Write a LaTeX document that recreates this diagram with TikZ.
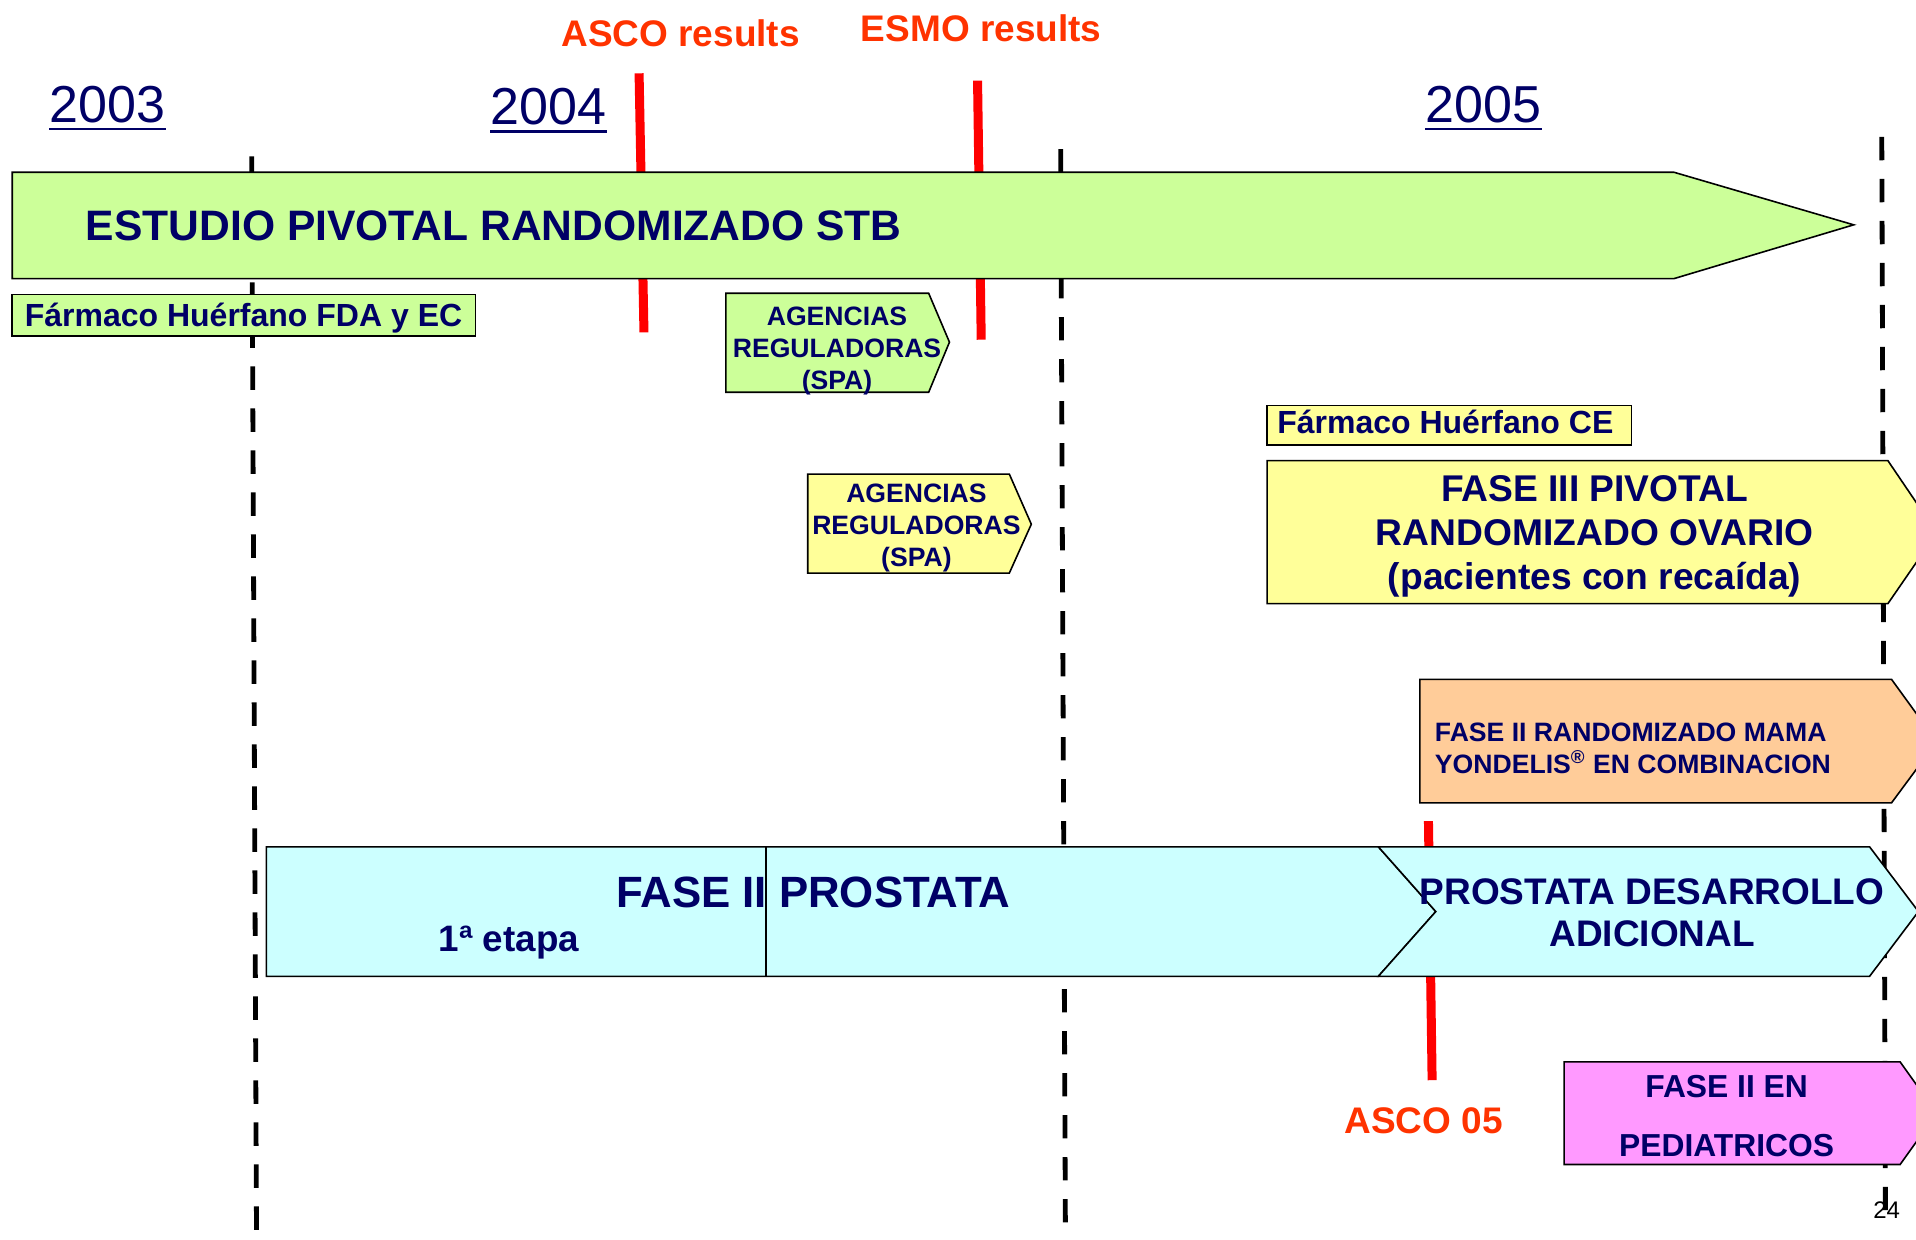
\documentclass[tikz,border=0pt]{standalone}
\usepackage{fontspec}
\setmainfont{Liberation Sans}
\definecolor{navy}{HTML}{000066}
\definecolor{redl}{HTML}{FF0000}
\definecolor{redt}{HTML}{FF3300}
\definecolor{greenf}{HTML}{CCFF99}
\definecolor{yellowf}{HTML}{FFFF99}
\definecolor{orangef}{HTML}{FFCC99}
\definecolor{cyanf}{HTML}{CCFFFF}
\definecolor{pinkf}{HTML}{FF99FF}
\newcommand\myfs[2]{\fontsize{#1}{#2}\selectfont}
\tikzset{
  shp/.style={draw=black, line width=0.8pt, line join=miter},
  txt/.style={inner sep=0pt, text=navy},
  redtxt/.style={inner sep=0pt, text=redt},
  redline/.style={draw=redl, line width=4.5pt},
  dashline/.style={draw=black, line width=2.4pt, dash pattern=on 11.7pt off 9.3pt},
  yearline/.style={draw=navy, line width=1.4pt},
}
\begin{document}
\begin{tikzpicture}[x=0.611pt,y=-0.611pt]
\useasboundingbox (0,0) rectangle (1568,1014);
\clip (0,0) rectangle (1568,1014);

% year separators
\coordinate (d1t) at (206,128); \coordinate (d1b) at (210,1030);
\coordinate (d2t) at (868,122); \coordinate (d2b) at (872,1030);
\coordinate (d3t) at (1540,112); \coordinate (d3b) at (1543,1000);
\draw[dashline] (d1t) -- (d1b);
\draw[dashline] (d2t) -- (d2b);
\draw[dashline] (d3t) -- (d3b);

% red event markers
\coordinate (r1t) at (523,60); \coordinate (r1b) at (527,272);
\coordinate (r2t) at (800,66); \coordinate (r2b) at (803,278);
\coordinate (r3t) at (1169,672); \coordinate (r3b) at (1172,884);
\draw[redline] (r1t) -- (r1b);
\draw[redline] (r2t) -- (r2b);
\draw[redline] (r3t) -- (r3b);

% years
\node[txt, anchor=base, font=\myfs{26}{30}] (y2003) at (88,100) {2003};
\node[txt, anchor=base, font=\myfs{26}{30}] (y2004) at (449,102) {2004};
\node[txt, anchor=base, font=\myfs{26}{30}] (y2005) at (1214,100) {2005};
\draw[yearline] ([yshift=-3.4pt]y2003.base west) -- ([yshift=-3.4pt]y2003.base east);
\draw[yearline] ([yshift=-3.4pt]y2004.base west) -- ([yshift=-3.4pt]y2004.base east);
\draw[yearline] ([yshift=-3.4pt]y2005.base west) -- ([yshift=-3.4pt]y2005.base east);

% event labels
\node[redtxt, font=\bfseries\myfs{18.5}{22}] (asco) at (557,27) {ASCO results};
\node[redtxt, font=\bfseries\myfs{18.5}{22}] (esmo) at (803,23) {ESMO results};
\node[redtxt, font=\bfseries\myfs{18.5}{22}] (asco05) at (1165,917) {ASCO 05};

% big green arrow
\path[shp, fill=greenf] (10,141) -- (1370,141) -- (1517,184) -- (1370,228) -- (10,228) -- cycle;
\node[txt, anchor=base west, font=\bfseries\myfs{21.3}{25}] (stb) at (70,197) {ESTUDIO PIVOTAL RANDOMIZADO STB};

% FDA box
\path[shp, fill=greenf] (10,241) rectangle (389,275);
\node[txt, anchor=base west, font=\bfseries\myfs{16}{19}] (fda) at (20,267) {Fármaco Huérfano FDA y EC};

% agencias green
\path[shp, fill=greenf] (594,240) -- (760,240) -- (777,280) -- (760,321) -- (594,321) -- cycle;
\node[txt, align=center, font=\bfseries\myfs{13.3}{15.9}] (ag1) at (685,287) {AGENCIAS\\REGULADORAS\\(SPA)};

% agencias yellow
\path[shp, fill=yellowf] (661,388) -- (826,388) -- (844,429) -- (826,469) -- (661,469) -- cycle;
\node[txt, align=center, font=\bfseries\myfs{13.3}{15.9}] (ag2) at (750,432) {AGENCIAS\\REGULADORAS\\(SPA)};

% CE box
\path[shp, fill=yellowf] (1037,332) rectangle (1335,364);
\node[txt, anchor=base west, font=\bfseries\myfs{16}{19}] (ce) at (1045,355) {Fármaco Huérfano CE};

% fase III
\path[shp, fill=yellowf] (1037,377) -- (1545,377) -- (1585,436) -- (1545,494) -- (1037,494) -- cycle;
\node[txt, align=center, font=\bfseries\myfs{18.6}{22}] (f3) at (1305,439) {FASE III PIVOTAL\\RANDOMIZADO OVARIO\\(pacientes con recaída)};

% orange
\path[shp, fill=orangef] (1162,556) -- (1548,556) -- (1585,607) -- (1548,657) -- (1162,657) -- cycle;
\node[txt, anchor=west, align=left, font=\bfseries\myfs{13.3}{15.9}] (mama) at (1174,612.5) {FASE II RANDOMIZADO MAMA\\YONDELIS\textsuperscript{®} EN COMBINACION};

% cyan prostata
\path[shp, fill=cyanf] (218,693) -- (1128,693) -- (1175,746) -- (1128,799) -- (218,799) -- cycle;
\coordinate (vt) at (627,693); \coordinate (vb) at (627,799);
\draw[line width=0.8pt] (vt) -- (vb);
\path[shp, fill=cyanf] (1128,693) -- (1530,693) -- (1570,746) -- (1530,799) -- (1128,799) -- (1175,746) -- cycle;
\node[txt, font=\bfseries\myfs{21.9}{25}] (f2p) at (665.5,730) {FASE II PROSTATA};
\node[txt, font=\bfseries\myfs{18.4}{22}] (etapa) at (416.5,771) {1ª etapa};
\node[txt, align=center, font=\bfseries\myfs{18.5}{21.4}] (desa) at (1352,747) {PROSTATA DESARROLLO\\ADICIONAL};

% pink
\path[shp, fill=pinkf] (1280,869) -- (1555,869) -- (1585,911) -- (1555,953) -- (1280,953) -- cycle;
\node[txt, align=center, font=\bfseries\myfs{15.9}{29.3}] (ped) at (1413,913.5) {FASE II EN\\PEDIATRICOS};

% page number
\node[inner sep=0pt, font=\myfs{12}{14}] (pg) at (1544,990) {24};
\end{tikzpicture}
\end{document}
